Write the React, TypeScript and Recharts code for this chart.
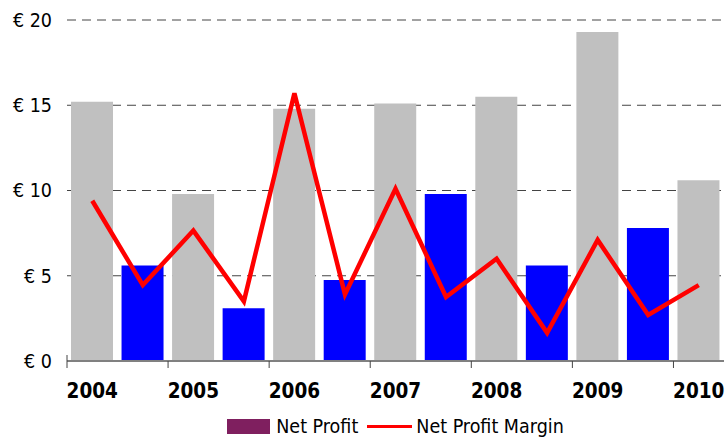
import { ComposedChart, Bar, Line, XAxis, YAxis, CartesianGrid, Cell, Legend } from 'recharts';

document.body.style.margin = '0';

const years = ['2004', '2005', '2006', '2007', '2008', '2009', '2010'];
// gray bars sit on the year, blue bars between the years
const netProfitYear = [15.2, 9.8, 14.8, 15.1, 15.5, 19.3, 10.6];
const netProfitHalf = [5.6, 3.1, 4.75, 9.8, 5.6, 7.8];
const netProfitMargin = [9.4, 4.45, 7.65, 3.5, 15.7, 3.9, 10.1, 3.75, 6.0, 1.65, 7.1, 2.7, 4.45];
const yTicks = [0, 5, 10, 15, 20];

const data = netProfitMargin.map((m, i) => {
  const isYear = i % 2 === 0;
  return {
    slot: isYear ? years[i / 2] : `${years[(i - 1) / 2]}b`,
    label: isYear ? years[i / 2] : '',
    isYear,
    profit: isYear ? netProfitYear[i / 2] : netProfitHalf[(i - 1) / 2],
    margin: m,
  };
});

const FONT = '"DejaVu Sans Condensed", "DejaVu Sans", sans-serif';
const PLOT_W = 657;
const SLOT = PLOT_W / data.length;

function YearTick(props: any) {
  const { x, y, payload } = props;
  const i = payload.index;
  const item = data[i];
  const left = x - SLOT / 2;
  return (
    <g>
      {i % 2 === 0 && (
        <line
          x1={left}
          x2={left}
          y1={i === 0 ? y - 6 : y}
          y2={y + 7}
          stroke="#444"
          strokeWidth={1}
        />
      )}
      {item && item.label && (
        <text
          x={x}
          y={y + 37}
          textAnchor="middle"
          fontFamily={FONT}
          fontSize={20.5}
          fontWeight="bold"
          fill="#000"
        >
          {item.label}
        </text>
      )}
    </g>
  );
}

function LegendBox() {
  return (
    <div
      style={{
        display: 'flex',
        justifyContent: 'center',
        alignItems: 'center',
        fontFamily: FONT,
        fontSize: 19.5,
        color: '#000',
        paddingTop: 6,
      }}
    >
      <span style={{ display: 'inline-block', width: 43, height: 15, background: '#7f1f5f', marginRight: 6 }} />
      <span>Net Profit</span>
      <span style={{ display: 'inline-block', width: 45, height: 3, background: '#ff0000', marginLeft: 9, marginRight: 4 }} />
      <span>Net Profit Margin</span>
    </div>
  );
}

export default function App() {
  return (
    <ComposedChart
      width={728}
      height={440}
      data={data}
      margin={{ top: 20, right: 4, left: 0, bottom: 0 }}
      style={{ fontFamily: FONT }}
    >
      <CartesianGrid vertical={false} stroke="#444" strokeDasharray="9 6" />
      <XAxis
        dataKey="slot"
        interval={0}
        height={48}
        tickSize={0}
        tickMargin={0}
        tickLine={false}
        axisLine={{ stroke: '#808080', strokeWidth: 2 }}
        tick={<YearTick />}
      />
      <YAxis
        width={67}
        domain={[0, 20]}
        ticks={yTicks}
        axisLine={false}
        tickLine={false}
        tickMargin={9}
        tickFormatter={(v: number) => `€ ${v}`}
        tick={{ fill: '#000', fontSize: 19.5, fontFamily: FONT }}
      />
      <Legend
        verticalAlign="bottom"
        height={31}
        content={<LegendBox />}
        wrapperStyle={{ left: 67, width: PLOT_W }}
      />
      <Bar dataKey="profit" name="Net Profit" barSize={42} isAnimationActive={false} legendType="rect">
        {data.map((d, i) => (
          <Cell key={`c-${i}`} fill={d.isYear ? '#c0c0c0' : '#0000ff'} />
        ))}
      </Bar>
      <Line
        dataKey="margin"
        name="Net Profit Margin"
        type="linear"
        stroke="#ff0000"
        strokeWidth={4.5}
        dot={false}
        activeDot={false}
        isAnimationActive={false}
      />
    </ComposedChart>
  );
}
